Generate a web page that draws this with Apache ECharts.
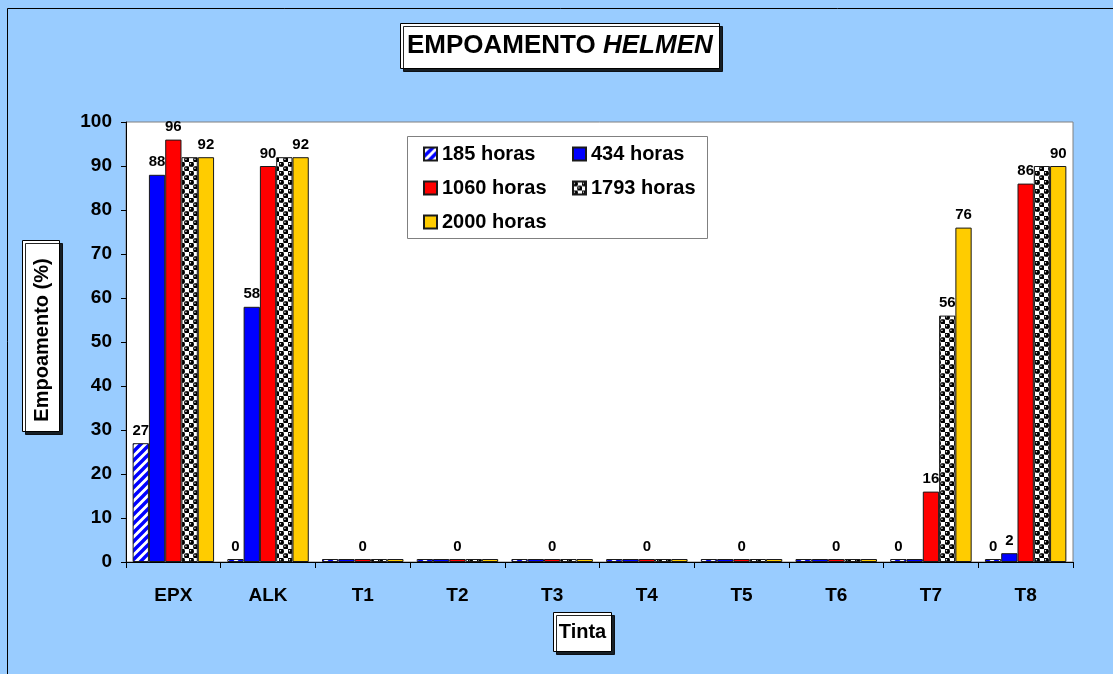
<!DOCTYPE html>
<html>
<head>
<meta charset="utf-8">
<title>Empoamento Helmen</title>
<script src="https://cdn.jsdelivr.net/npm/echarts@6/dist/echarts.min.js"></script>
<style>
  html, body { margin: 0; padding: 0; background: #99CCFF; }
  #chart { width: 1113px; height: 674px; }
</style>
</head>
<body>
<div id="chart"></div>
<script>
// Categories (paint systems) and exposure times
const categories = ['EPX', 'ALK', 'T1', 'T2', 'T3', 'T4', 'T5', 'T6', 'T7', 'T8'];
const seriesNames = ['185 horas', '434 horas', '1060 horas', '1793 horas', '2000 horas'];

// Chalking (%) per category for each exposure time
const h185  = [27, 0, 0, 0, 0, 0, 0, 0, 0, 0];
const h434  = [88, 58, 0, 0, 0, 0, 0, 0, 0, 2];
const h1060 = [96, 90, 0, 0, 0, 0, 0, 0, 16, 86];
const h1793 = [92, 92, 0, 0, 0, 0, 0, 0, 56, 90];
const h2000 = [92, 92, 0, 0, 0, 0, 0, 0, 76, 90];

// Which bars carry a value label
const lab185  = [1, 1, 0, 0, 0, 0, 0, 0, 1, 1];
const lab434  = [1, 1, 0, 0, 0, 0, 0, 0, 0, 1];
const lab1060 = [1, 1, 1, 1, 1, 1, 1, 1, 1, 1];
const lab1793 = [0, 0, 0, 0, 0, 0, 0, 0, 1, 0];
const lab2000 = [1, 1, 0, 0, 0, 0, 0, 0, 1, 1];

// Y axis ticks
const yTicks = { min: 0, max: 100, step: 10 };

const FONT = '"Liberation Sans", Arial, sans-serif';

// Fill patterns
function stripePattern() {
  const s = 9;
  const c = document.createElement('canvas');
  c.width = s; c.height = s;
  const g = c.getContext('2d');
  g.fillStyle = '#ffffff';
  g.fillRect(0, 0, s, s);
  g.strokeStyle = '#0000ff';
  g.lineWidth = 3.4;
  g.beginPath();
  [-s, 0, s].forEach(function (o) {
    g.moveTo(-2 + o, s + 2); g.lineTo(s + 2 + o, -2);
  });
  g.stroke();
  return { image: c, repeat: 'repeat' };
}
function checkerPattern() {
  const s = 9, h = s / 2;
  const c = document.createElement('canvas');
  c.width = s; c.height = s;
  const g = c.getContext('2d');
  g.fillStyle = '#ffffff';
  g.fillRect(0, 0, s, s);
  g.fillStyle = '#000000';
  [[h / 2, h / 2], [h * 1.5, h * 1.5]].forEach(function (p) {
    g.beginPath(); g.arc(p[0], p[1], 2.6, 0, Math.PI * 2); g.fill();
    g.fillRect(p[0] - 2.1, p[1] - 2.1, 4.2, 4.2);
  });
  g.fillStyle = '#ffffff';
  [[h / 2 - 0.8, h / 2 - 0.6], [h * 1.5 - 0.8, h * 1.5 - 0.6]].forEach(function (p) {
    g.beginPath(); g.arc(p[0], p[1], 0.75, 0, Math.PI * 2); g.fill();
  });
  return { image: c, repeat: 'repeat' };
}

const fills = [stripePattern(), '#0000ff', '#ff0000', checkerPattern(), '#ffcc00'];
const values = [h185, h434, h1060, h1793, h2000];
const labelMasks = [lab185, lab434, lab1060, lab1793, lab2000];

const series = seriesNames.map(function (name, si) {
  return {
    name: name,
    type: 'bar',
    barGap: '0%',
    barCategoryGap: '14%',
    barMinHeight: 3,
    itemStyle: { color: fills[si], borderColor: '#1a1a1a', borderWidth: 1 },
    label: {
      position: 'top',
      distance: 5,
      color: '#000',
      fontFamily: FONT,
      fontWeight: 'bold',
      fontSize: 15
    },
    data: values[si].map(function (v, i) {
      return { value: v, label: { show: !!labelMasks[si][i] } };
    })
  };
});

const legendText = { fontFamily: FONT, fontWeight: 'bold', fontSize: 20, color: '#000', lineHeight: 20 };
const boxShadow = { shadowColor: 'rgba(0,0,0,0.85)', shadowBlur: 0, shadowOffsetX: 3, shadowOffsetY: 3 };

const chart = echarts.init(document.getElementById('chart'), null, { renderer: 'canvas' });
chart.setOption({
  backgroundColor: '#99CCFF',
  animation: false,
  title: Object.assign({
    text: '{a|EMPOAMENTO }{b|HELMEN}',
    left: 400,
    top: 21,
    padding: [10, 7, 10, 7],
    backgroundColor: '#ffffff',
    borderColor: '#000',
    borderWidth: 1,
    textStyle: {
      rich: {
        a: { fontFamily: FONT, fontWeight: 'bold', fontSize: 26, color: '#000', lineHeight: 30 },
        b: { fontFamily: FONT, fontWeight: 'bold', fontStyle: 'italic', fontSize: 26, color: '#000', lineHeight: 30 }
      }
    }
  }, boxShadow),
  graphic: [
    {
      type: 'rect', z: -10, silent: true,
      shape: { x: 7.5, y: 8.5, width: 1200, height: 700 },
      style: { fill: null, stroke: '#000', lineWidth: 1 }
    },
    {
      type: 'rect', z: 5, silent: true,
      shape: { x: 407.5, y: 136.5, width: 300, height: 102 },
      style: { fill: '#ffffff', stroke: '#808080', lineWidth: 1 }
    },
    {
      // y axis title box
      type: 'group', z: 5, left: 22, top: 240, silent: true,
      children: [
        {
          type: 'rect',
          shape: { x: 0.5, y: 0.5, width: 37, height: 191 },
          style: Object.assign({ fill: '#ffffff', stroke: '#000', lineWidth: 1 }, boxShadow)
        },
        {
          type: 'text',
          x: 20, y: 100, rotation: Math.PI / 2,
          style: { text: 'Empoamento (%)', align: 'center', verticalAlign: 'middle',
                   fontFamily: FONT, fontWeight: 'bold', fontSize: 20, fill: '#000' }
        }
      ]
    },
    {
      // x axis title box
      type: 'group', z: 5, left: 553, top: 612, silent: true,
      children: [
        {
          type: 'rect',
          shape: { x: 0.5, y: 0.5, width: 58, height: 39 },
          style: Object.assign({ fill: '#ffffff', stroke: '#000', lineWidth: 1 }, boxShadow)
        },
        {
          type: 'text',
          style: { x: 29.5, y: 20.5, text: 'Tinta', align: 'center', verticalAlign: 'middle',
                   fontFamily: FONT, fontWeight: 'bold', fontSize: 20, fill: '#000' }
        }
      ]
    }
  ],
  legend: [
    {
      data: ['185 horas', '1060 horas', '2000 horas'],
      orient: 'vertical',
      left: 418, top: 139,
      itemWidth: 13, itemHeight: 13, itemGap: 14,
      selectedMode: false, z: 6,
      icon: 'rect',
      textStyle: legendText
    },
    {
      data: ['434 horas', '1793 horas'],
      orient: 'vertical',
      left: 567, top: 139,
      itemWidth: 13, itemHeight: 13, itemGap: 14,
      selectedMode: false, z: 6,
      icon: 'rect',
      textStyle: legendText
    }
  ],
  grid: {
    left: 126, right: 40, top: 122, bottom: 112,
    show: true, backgroundColor: '#ffffff', borderColor: '#808080', borderWidth: 1
  },
  xAxis: {
    type: 'category',
    data: categories,
    axisLine: { lineStyle: { color: '#000', width: 1 } },
    axisTick: { show: true, length: 6, lineStyle: { color: '#000' } },
    axisLabel: { margin: 24, color: '#000', fontFamily: FONT, fontWeight: 'bold', fontSize: 19 }
  },
  yAxis: {
    type: 'value',
    min: yTicks.min, max: yTicks.max, interval: yTicks.step,
    splitLine: { show: false },
    axisLine: { show: true, lineStyle: { color: '#000', width: 1 } },
    axisTick: { show: true, length: 5, lineStyle: { color: '#000' } },
    axisLabel: { margin: 14, color: '#000', fontFamily: FONT, fontWeight: 'bold', fontSize: 19 }
  },
  series: series
});
</script>
</body>
</html>
